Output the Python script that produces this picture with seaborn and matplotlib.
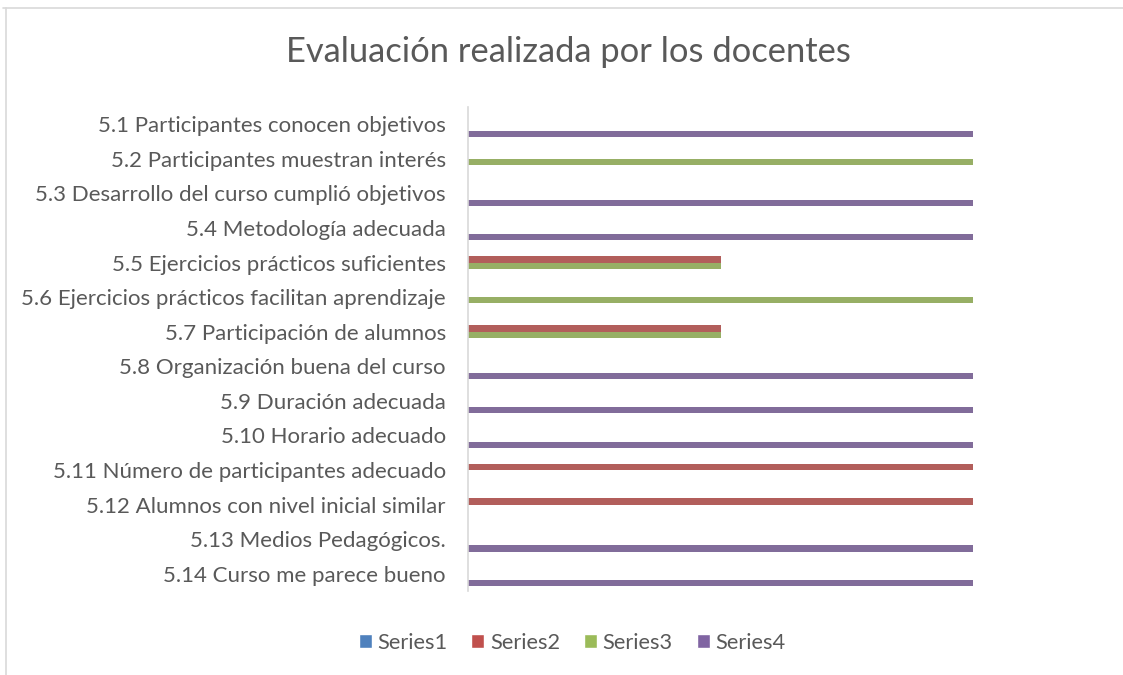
import pandas as pd
import matplotlib.pyplot as plt
import seaborn as sns
from matplotlib.lines import Line2D
from matplotlib.patches import Patch

# categories, top to bottom
categorias = [
    "5.1 Participantes conocen objetivos",
    "5.2 Participantes muestran interés",
    "5.3 Desarrollo del curso cumplió objetivos",
    "5.4 Metodología adecuada",
    "5.5 Ejercicios prácticos suficientes",
    "5.6 Ejercicios prácticos facilitan aprendizaje",
    "5.7 Participación de alumnos",
    "5.8 Organización buena del curso",
    "5.9 Duración adecuada",
    "5.10 Horario adecuado",
    "5.11 Número de participantes adecuado",
    "5.12 Alumnos con nivel inicial similar",
    "5.13 Medios Pedagógicos.",
    "5.14 Curso me parece bueno",
]
series1 = [0, 0, 0, 0, 0, 0, 0, 0, 0, 0, 0, 0, 0, 0]
series2 = [0, 0, 0, 0, 0.5, 0, 0.5, 0, 0, 0, 1, 1, 0, 0]
series3 = [0, 1, 0, 0, 0.5, 1, 0.5, 0, 0, 0, 0, 0, 0, 0]
series4 = [1, 0, 1, 1, 0, 0, 0, 1, 1, 1, 0, 0, 1, 1]
series_names = ["Series1", "Series2", "Series3", "Series4"]
colores = ["#4F81BD", "#C0504D", "#9BBB59", "#8064A2"]

rows = []
for name, vals in zip(series_names, [series1, series2, series3, series4]):
    for cat, v in zip(categorias, vals):
        rows.append({"categoria": cat, "valor": v, "serie": name})
df = pd.DataFrame(rows)

sns.set_style("white")
plt.rcParams["font.family"] = ["Lato", "DejaVu Sans"]
text_color = "#595959"

fig = plt.figure(figsize=(11.23, 6.75), dpi=100)
ax = fig.add_axes([468 / 1123, 1 - 591 / 675, (973 - 468) / 1123, (591 - 107) / 675])

sns.barplot(data=df, y="categoria", x="valor", hue="serie", order=categorias,
            hue_order=series_names, palette=colores, orient="h", width=0.72,
            linewidth=0, ax=ax, legend=False)

ax.set_xlim(0, 1)
ax.set_xlabel("")
ax.set_ylabel("")
ax.set_xticks([])
ax.tick_params(axis="y", length=0, pad=16, labelsize=16, labelcolor=text_color)
for s in ["top", "right", "bottom"]:
    ax.spines[s].set_visible(False)
ax.spines["left"].set_color("#D9D9D9")
ax.spines["left"].set_linewidth(1.2)

fig.text(568 / 1123, 1 - 52 / 675, "Evaluación realizada por los docentes",
         ha="center", va="center", fontsize=24.8, color=text_color)

handles = [Patch(facecolor=c, label=n) for c, n in zip(colores, series_names)]
fig.legend(handles=handles, loc="center", bbox_to_anchor=(572 / 1123, 1 - 643 / 675),
           ncol=4, frameon=False, handlelength=0.6, handleheight=0.6,
           handletextpad=0.25, columnspacing=1.1, fontsize=15.7, labelcolor=text_color)

# chart frame
fig.add_artist(Line2D([3 / 1123, 1], [1 - 8 / 675, 1 - 8 / 675], color="#D9D9D9", lw=1.2))
fig.add_artist(Line2D([6 / 1123, 6 / 1123], [0, 1 - 8 / 675], color="#D9D9D9", lw=1.2))

fig.savefig("out.png", dpi=100, facecolor="white")
